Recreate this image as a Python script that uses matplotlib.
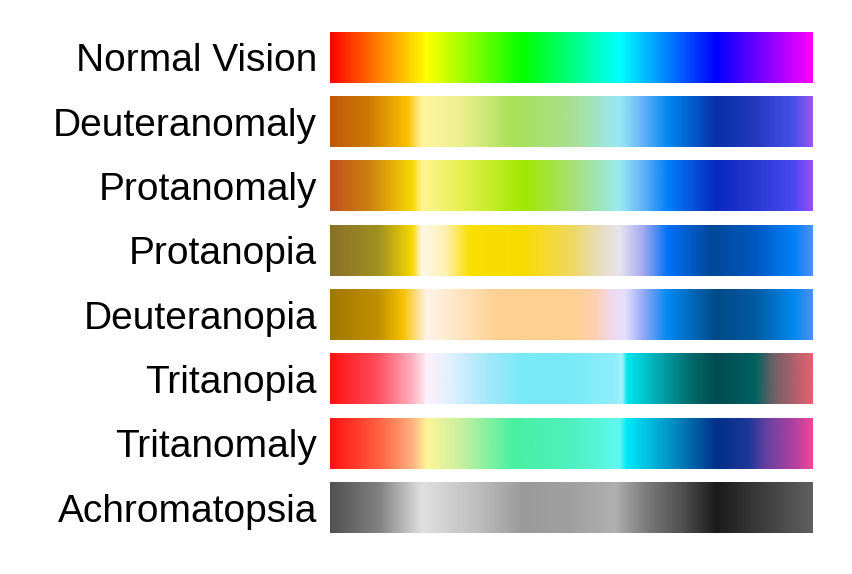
import numpy as np
import matplotlib
matplotlib.use("Agg")
import matplotlib.pyplot as plt
from matplotlib.colors import LinearSegmentedColormap

# ---- data ----
labels = ["Normal Vision", "Deuteranomaly", "Protanomaly", "Protanopia",
          "Deuteranopia", "Tritanopia", "Tritanomaly", "Achromatopsia"]

normal_pos = [0.0, 0.2, 0.4, 0.6, 0.8, 1.0]
normal_col = ["#ff0000", "#ffff00", "#00ff00", "#00ffff", "#0000ff", "#ff00ff"]

deutan_anom_pos = [0.0, 0.08, 0.16, 0.19, 0.27, 0.38, 0.5, 0.6, 0.65, 0.7, 0.8, 0.88, 0.96, 1.0]
deutan_anom_col = ["#c05808", "#cc7a06", "#fcc000", "#fff5a0", "#ecf090", "#a8e058", "#a8e090",
                   "#98e8f8", "#60b0f8", "#0088f0", "#0830a8", "#2438c0", "#4850e8", "#9858f0"]

protan_anom_pos = [0.0, 0.08, 0.17, 0.19, 0.27, 0.4, 0.5, 0.6, 0.65, 0.7, 0.8, 0.88, 0.96, 1.0]
protan_anom_col = ["#c05020", "#cc8010", "#f8d800", "#fff590", "#e8f050", "#a0e800", "#a8e070",
                   "#98eaf0", "#60b0f8", "#0080f8", "#0828c0", "#2838d0", "#4848f0", "#9850f8"]

protanopia_pos = [0.0, 0.1, 0.17, 0.19, 0.24, 0.29, 0.4, 0.5, 0.55, 0.6, 0.65, 0.7, 0.79, 0.88, 0.96, 1.0]
protanopia_col = ["#887028", "#a09020", "#f8d800", "#fff8e8", "#fff0b0", "#f8e000", "#f8dc00",
                  "#f0d860", "#e8dcb0", "#e8e4f0", "#a0a8f0", "#0070f8", "#004898", "#0058c0",
                  "#0080f8", "#5090f8"]

deuteranopia_pos = [0.0, 0.1, 0.15, 0.2, 0.27, 0.35, 0.5, 0.55, 0.58, 0.61, 0.65, 0.7, 0.8, 0.88, 0.96, 1.0]
deuteranopia_col = ["#a07800", "#c09000", "#f8c000", "#fff4e8", "#ffe4c0", "#ffd090", "#ffd090",
                    "#ffd0b0", "#f0d8e8", "#e8e0ff", "#90a8f8", "#0088f0", "#004a88", "#005aa0",
                    "#0088f0", "#5090f0"]

tritanopia_pos = [0.0, 0.1, 0.17, 0.2, 0.25, 0.33, 0.4, 0.5, 0.59, 0.605, 0.615, 0.68, 0.75, 0.8, 0.88, 0.92, 1.0]
tritanopia_col = ["#ff1010", "#ff5060", "#ffb0c0", "#fff0fa", "#e0f0ff", "#a0e8fa", "#78eaf8",
                  "#78eaf8", "#90eefc", "#a8f0ff", "#00e8f0", "#00a8b0", "#006868", "#004c50",
                  "#006060", "#706068", "#e86070"]

tritanomaly_pos = [0.0, 0.1, 0.17, 0.2, 0.27, 0.38, 0.5, 0.6, 0.615, 0.7, 0.8, 0.87, 0.9, 0.96, 1.0]
tritanomaly_col = ["#ff1010", "#ff6040", "#ffb080", "#fff598", "#c8f0a0", "#48f0a0", "#50f0c0",
                   "#60f8f0", "#00e8f8", "#0098c8", "#003088", "#203898", "#6040a0", "#b040a0",
                   "#f04898"]

achroma_pos = [0.0, 0.1, 0.19, 0.3, 0.4, 0.5, 0.59, 0.66, 0.73, 0.8, 0.88, 1.0]
achroma_col = ["#505050", "#808080", "#e0e0e0", "#c0c0c0", "#9a9a9a", "#a0a0a0", "#b0b0b0",
               "#787878", "#505050", "#1a1a1a", "#383838", "#606060"]

stops = [(normal_pos, normal_col), (deutan_anom_pos, deutan_anom_col),
         (protan_anom_pos, protan_anom_col), (protanopia_pos, protanopia_col),
         (deuteranopia_pos, deuteranopia_col), (tritanopia_pos, tritanopia_col),
         (tritanomaly_pos, tritanomaly_col), (achroma_pos, achroma_col)]

# ---- figure ----
W, H = 853, 574
fig = plt.figure(figsize=(W / 100, H / 100), dpi=100)
left, right, top, bottom = 330, 813, 32, 533
ax = fig.add_axes([left / W, 1 - bottom / H, (right - left) / W, (bottom - top) / H])

pitch, barh = 64.5, 51.0
h = barh / pitch
grad = np.linspace(0, 1, 1024)[None, :]
for i, (pos, cols) in enumerate(stops):
    cmap = LinearSegmentedColormap.from_list(f"c{i}", list(zip(pos, cols)), N=1024)
    ax.imshow(grad, cmap=cmap, aspect="auto", extent=[0, 1, i + h / 2, i - h / 2],
              interpolation="bilinear")

ax.set_xlim(0, 1)
ax.set_ylim(len(labels) - 1 + h / 2, -h / 2)
ax.set_xticks([])
ax.set_yticks(range(len(labels)))
ax.set_yticklabels(labels, fontsize=28, family=["Liberation Sans", "DejaVu Sans"])
ax.tick_params(axis="y", length=0, pad=9.4)
for s in ax.spines.values():
    s.set_visible(False)

fig.savefig("out.png", dpi=100, facecolor="white")
